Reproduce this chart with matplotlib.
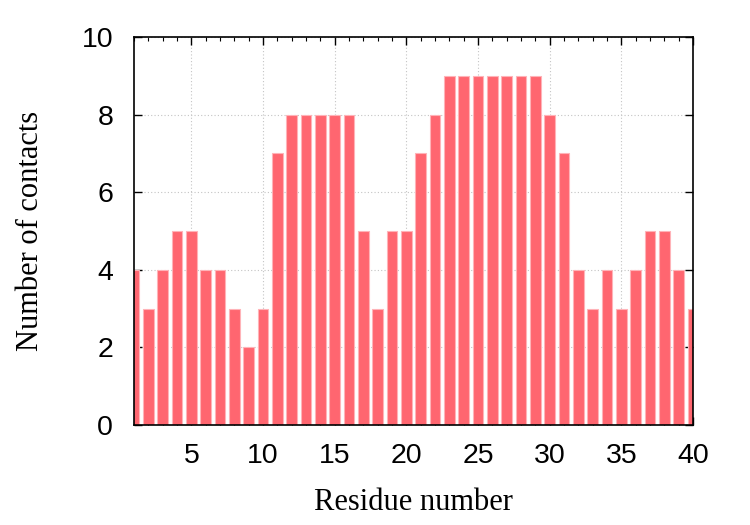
import numpy as np
import matplotlib.pyplot as plt
from matplotlib.ticker import MultipleLocator

# Contacts per residue.
residues = list(range(1, 41))
contacts = [4, 3, 4, 5, 5, 4, 4, 3, 2, 3,
            7, 8, 8, 8, 8, 8, 5, 3, 5, 5,
            7, 8, 9, 9, 9, 9, 9, 9, 9, 8,
            7, 4, 3, 4, 3, 4, 5, 5, 4, 3]
x_ticks = [5, 10, 15, 20, 25, 30, 35, 40]
y_ticks = [0, 2, 4, 6, 8, 10]

fig = plt.figure(figsize=(7.5, 5.25), dpi=100)
ax = fig.add_axes([0.1787, 0.1905, 0.7453, 0.739])

ax.bar(residues, contacts, width=0.75, color="#ff6670",
       edgecolor="#ffb3b8", linewidth=0.8, zorder=2)

ax.set_xlim(1, 40)
ax.set_ylim(0, 10)
ax.set_xticks(x_ticks)
ax.set_yticks(y_ticks)
ax.xaxis.set_minor_locator(MultipleLocator(1))

ax.grid(True, which="major", color="#c4c4c4", linestyle=(0, (1, 2)), linewidth=0.8, zorder=0)
ax.set_axisbelow(True)

ax.tick_params(which="both", direction="in", top=True, right=True)
ax.tick_params(which="major", length=6, width=1, labelsize=20.5)
ax.tick_params(axis="x", which="major", pad=13)
ax.tick_params(axis="y", which="major", pad=15)
ax.tick_params(which="minor", length=3, width=0.8)
for lab in ax.get_xticklabels() + ax.get_yticklabels():
    lab.set_family("Liberation Sans")
for sp in ax.spines.values():
    sp.set_linewidth(1.2)

ax.set_xlabel("Residue number", family="Liberation Serif", fontsize=22, labelpad=14)
ax.set_ylabel("Number of contacts", family="Liberation Serif", fontsize=22, labelpad=26)

plt.savefig("out.png", dpi=100)
